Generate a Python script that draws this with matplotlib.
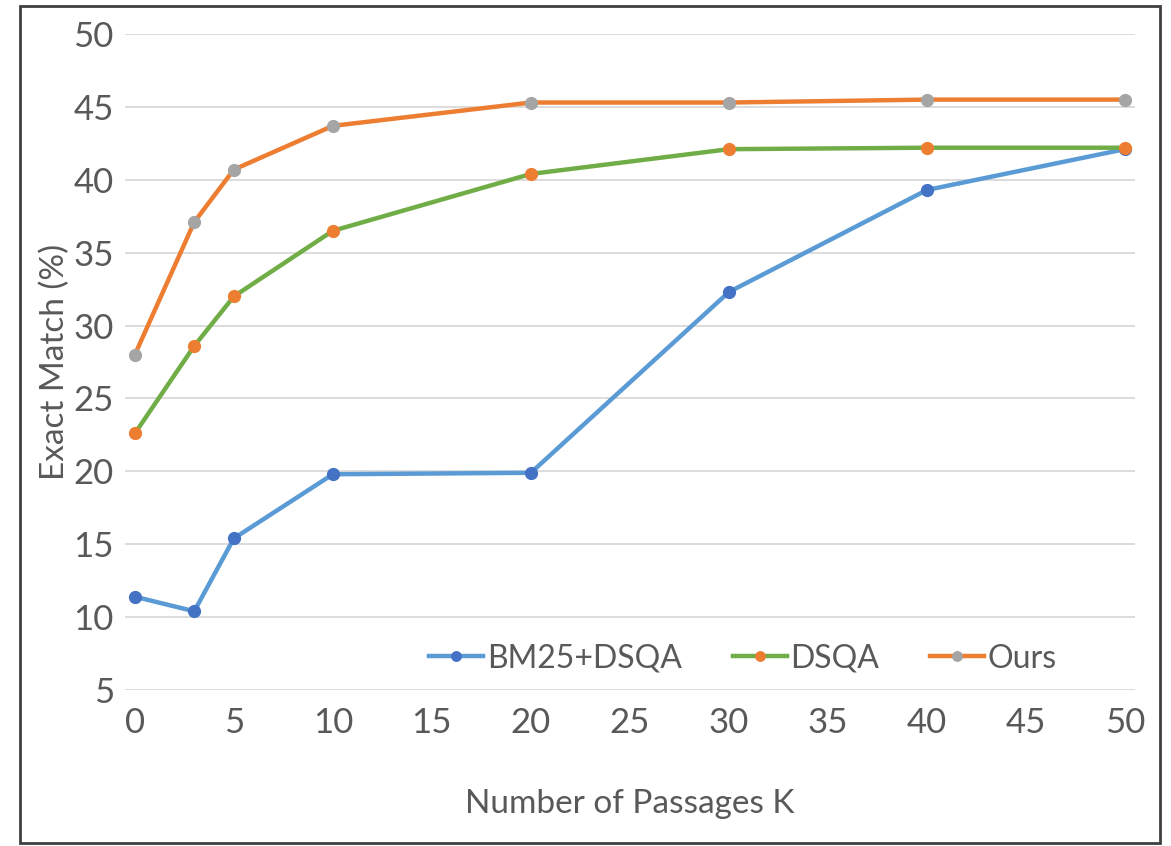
import matplotlib.pyplot as plt
from matplotlib.patches import Rectangle

passages = [0, 3, 5, 10, 20, 30, 40, 50]
bm25_dsqa = [11.4, 10.4, 15.4, 19.8, 19.9, 32.3, 39.3, 42.1]
dsqa = [22.6, 28.6, 32.0, 36.5, 40.4, 42.1, 42.2, 42.2]
ours = [28.0, 37.1, 40.7, 43.7, 45.3, 45.3, 45.5, 45.5]

x_ticks = list(range(0, 55, 5))
y_ticks = list(range(5, 55, 5))

plt.rcParams['font.family'] = ['Lato', 'DejaVu Sans']
text_color = '#595959'


def main():
    fig = plt.figure(figsize=(11.71, 8.46), dpi=100)
    ax = fig.add_axes([0.1067, 0.1844, 0.8624, 0.7754])

    ax.plot(passages, bm25_dsqa, color='#5B9BD5', lw=3.2, marker='o', ms=8.5,
            mfc='#4472C4', mec='#4472C4', label='BM25+DSQA', zorder=3)
    ax.plot(passages, dsqa, color='#70AD47', lw=3.2, marker='o', ms=8.5,
            mfc='#ED7D31', mec='#ED7D31', label='DSQA', zorder=4)
    ax.plot(passages, ours, color='#ED7D31', lw=3.2, marker='o', ms=8.5,
            mfc='#A5A5A5', mec='#A5A5A5', label='Ours', zorder=5)

    ax.set_xlim(-0.5, 50.5)
    ax.set_ylim(5, 50)
    ax.set_xticks(x_ticks)
    ax.set_yticks(y_ticks)
    ax.tick_params(length=0, labelsize=25, colors=text_color)
    ax.tick_params(axis='x', pad=12)
    ax.tick_params(axis='y', pad=8)
    ax.grid(axis='y', color='#D9D9D9', lw=1.3)
    ax.set_axisbelow(True)
    for s in ax.spines.values():
        s.set_visible(False)

    ax.set_xlabel('Number of Passages K', fontsize=24, color=text_color, labelpad=36)
    ax.set_ylabel('Exact Match (%)', fontsize=24, color=text_color, labelpad=2)

    ax.legend(loc='center', bbox_to_anchor=(0.612, 0.048), ncol=3, frameon=False,
              fontsize=23, labelcolor=text_color, handlelength=1.7,
              handletextpad=0.1, columnspacing=1.6, markerscale=0.8)

    fig.patches.append(Rectangle((20 / 1171, 3 / 846), 1140 / 1171, 837 / 846,
                                 transform=fig.transFigure, fill=False,
                                 edgecolor='#404040', lw=2))
    fig.savefig('out.png', dpi=100)


if __name__ == '__main__':
    main()
